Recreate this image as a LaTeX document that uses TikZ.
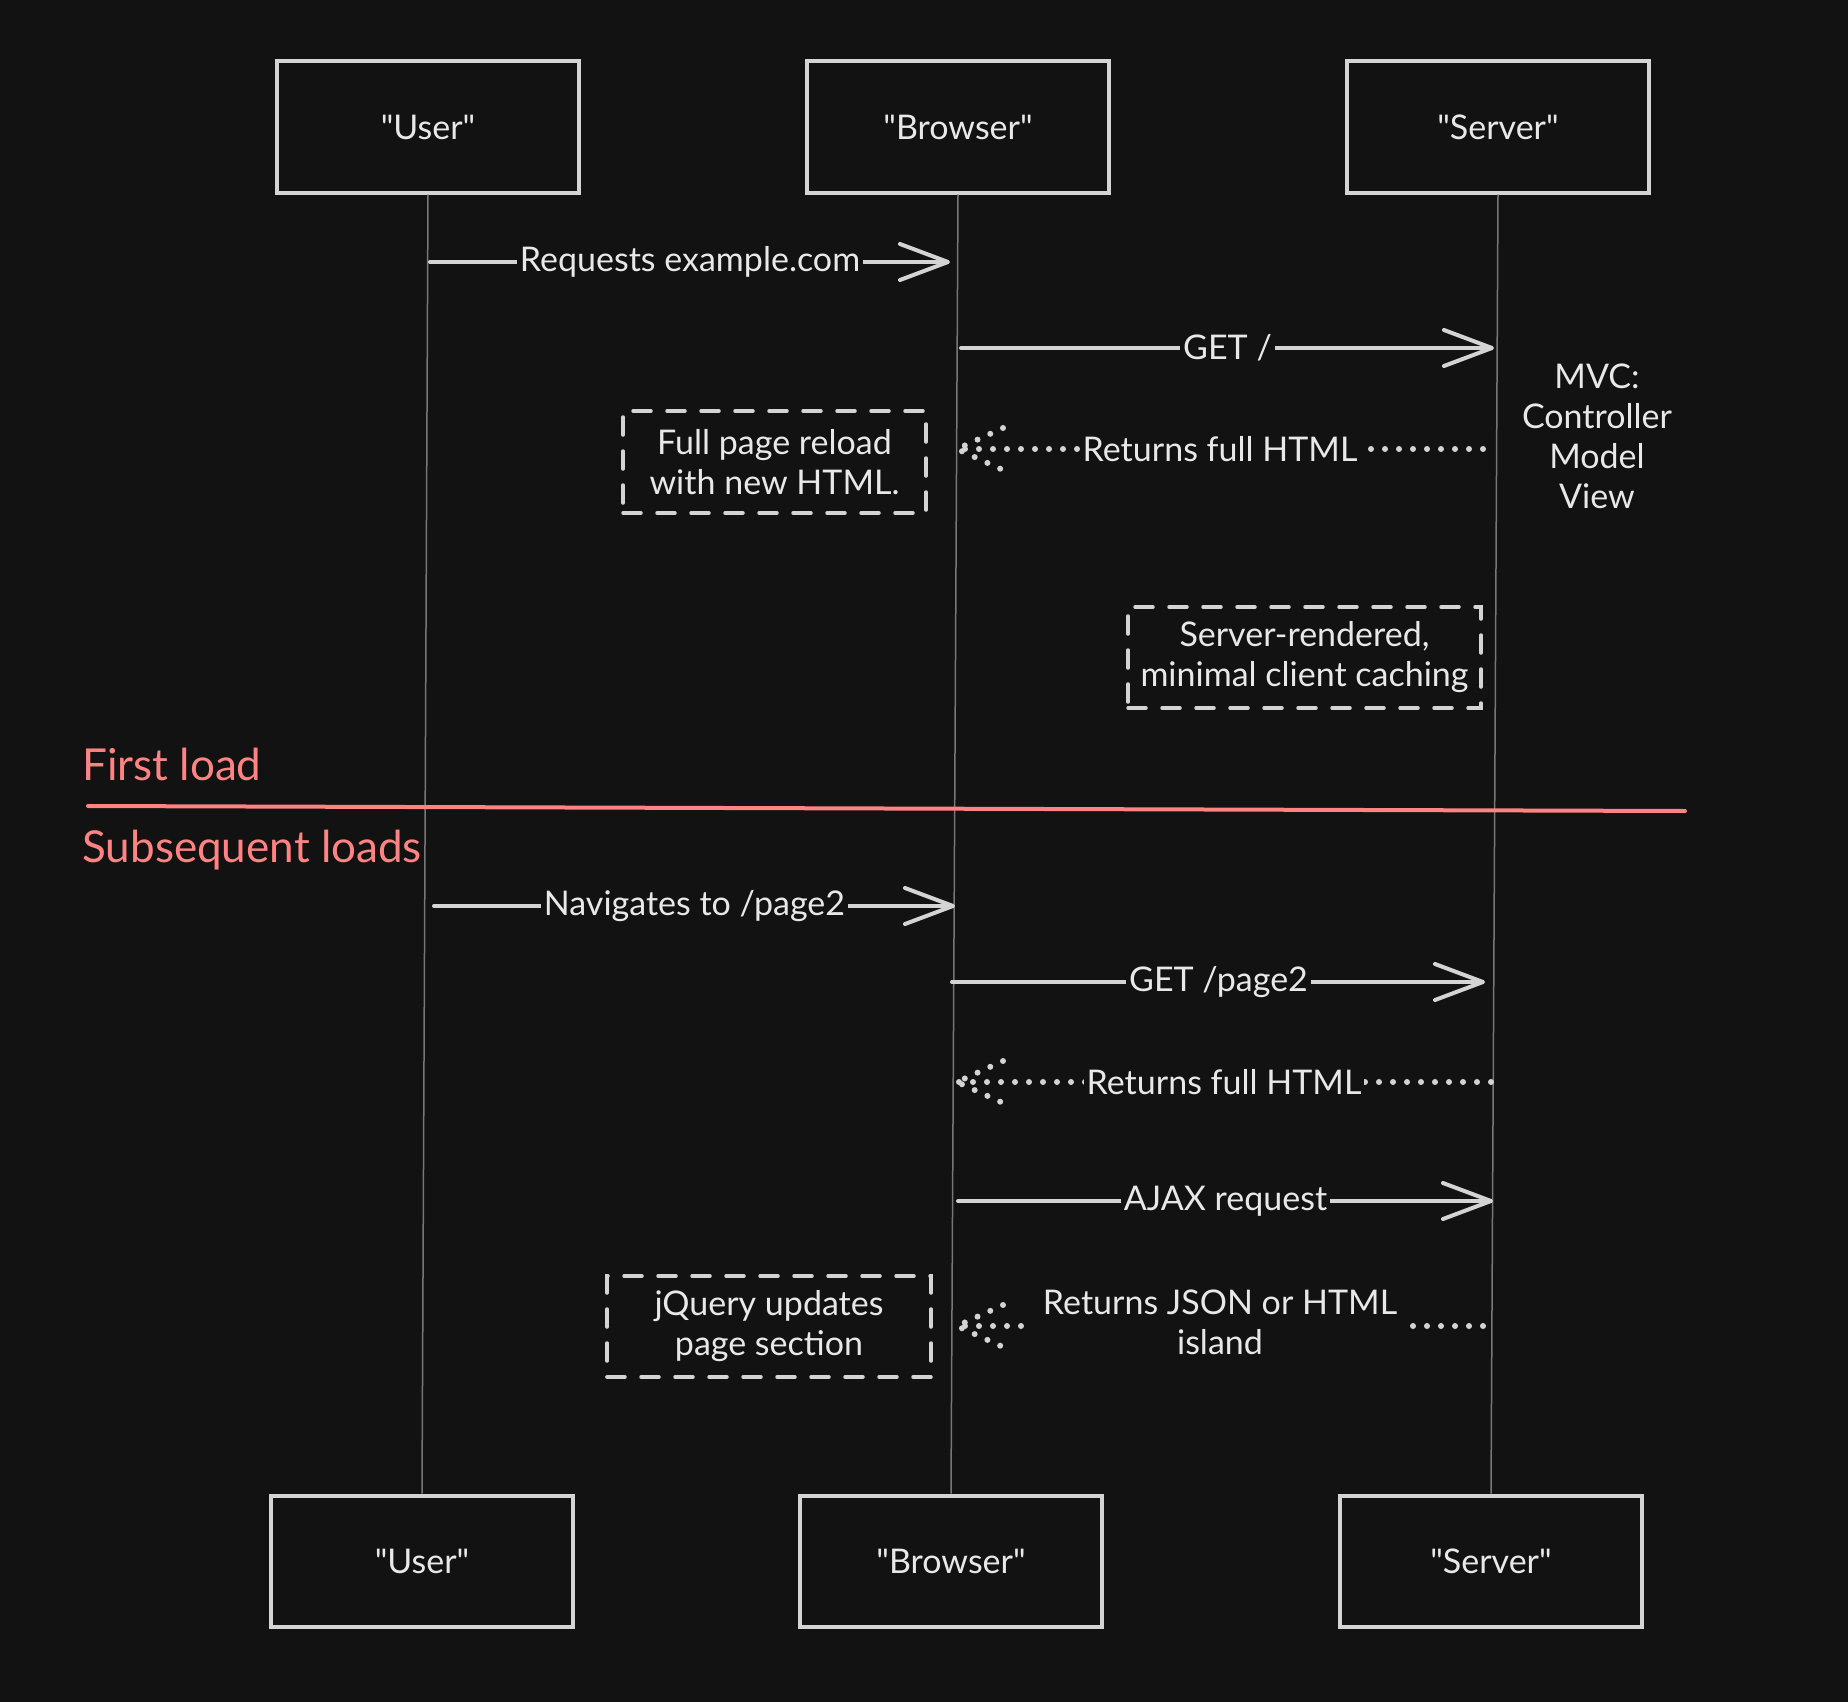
\documentclass[tikz,border=0pt]{standalone}
\usepackage{fontspec}
\setmainfont{Lato}[Ligatures=TeXOff]
\usetikzlibrary{arrows.meta,calc}
\definecolor{bg}{HTML}{121212}
\definecolor{ink}{HTML}{D4D4D4}
\definecolor{txt}{HTML}{E8E8E8}
\definecolor{life}{HTML}{777777}
\definecolor{redc}{HTML}{FF8383}
\begin{document}
\begin{tikzpicture}[x=0.5pt,y=-0.5pt,
  actor/.style={draw=ink, line width=2pt, fill=bg, minimum width=151pt, minimum height=65.5pt, text=txt, font=\fontsize{17}{20}\selectfont, inner sep=0pt},
  notebox/.style={draw=ink, line width=1.75pt, dash pattern=on 9pt off 8pt, line cap=round, fill=bg, text=txt, align=center, font=\fontsize{17}{20}\selectfont, inner sep=0pt},
  lifeline/.style={draw=life, line width=0.75pt},
  msg/.style={draw=ink, line width=2pt, line cap=round, -{Straight Barb[length=24pt,width=18pt,round]}},
  ret/.style={draw=ink, line width=3pt, line cap=round, dash pattern=on 0pt off 7pt},
  lbl/.style={fill=bg, text=txt, inner xsep=1.5pt, inner ysep=1pt, align=center, font=\fontsize{17}{20}\selectfont},
  redtxt/.style={text=redc, anchor=west, inner sep=0pt, font=\fontsize{22}{26}\selectfont},
  plain/.style={text=txt, align=center, font=\fontsize{17}{20}\selectfont}
]
\fill[bg] (0,0) rectangle (1848,1702);
\useasboundingbox (0,0) rectangle (1848,1702);

% actors (placed first so lifelines can be drawn between them)
\node[actor] (userT) at (428,127) {"User"};
\node[actor] (browserT) at (958,127) {"Browser"};
\node[actor] (serverT) at (1498,127) {"Server"};
\node[actor] (userB) at (422,1561) {"User"};
\node[actor] (browserB) at (951,1561) {"Browser"};
\node[actor] (serverB) at (1491,1561) {"Server"};

% lifelines
\path[lifeline] (userT.south) -- (userB.north);
\path[lifeline] (browserT.south) -- (browserB.north);
\path[lifeline] (serverT.south) -- (serverB.north);

% message endpoints
\coordinate (s1) at (430,262);  \coordinate (e1) at (950,262);
\coordinate (s2) at (961,348);  \coordinate (e2) at (1494,348);
\coordinate (s3) at (1483,449); \coordinate (e3) at (957,449);
\coordinate (s4) at (434,906);  \coordinate (e4) at (955,906);
\coordinate (s5) at (952,982);  \coordinate (e5) at (1485,982);
\coordinate (s6) at (1491,1082);\coordinate (e6) at (957,1082);
\coordinate (s7) at (958,1201); \coordinate (e7) at (1493,1201);
\coordinate (s8) at (1483,1326);\coordinate (e8) at (957,1326);

% solid messages
\draw[msg] (s1) -- (e1);
\draw[msg] (s2) -- (e2);
\draw[msg] (s4) -- (e4);
\draw[msg] (s5) -- (e5);
\draw[msg] (s7) -- (e7);

% dotted returns
\foreach \s/\e in {s3/e3, s6/e6, s8/e8}{
  \draw[ret] (\s) -- (\e);
  \draw[ret] ($(\e)+(46,-21)$) -- (\e) -- ($(\e)+(46,21)$);
}

% labels
\node[lbl] (l1) at ($(s1)!0.5!(e1)$) {Requests example.com};
\node[lbl] (l2) at ($(s2)!0.5!(e2)$) {GET /};
\node[lbl] (l3) at ($(s3)!0.5!(e3)$) {Returns full HTML};
\node[lbl] (l4) at ($(s4)!0.5!(e4)$) {Navigates to /page2};
\node[lbl] (l5) at ($(s5)!0.5!(e5)$) {GET /page2};
\node[lbl] (l6) at ($(s6)!0.5!(e6)$) {Returns full HTML};
\node[lbl] (l7) at ($(s7)!0.5!(e7)$) {AJAX request};
\node[lbl, inner xsep=6pt] (l8) at ($(s8)!0.5!(e8)+(0,-4)$) {Returns JSON or HTML\\island};

% notes
\node[notebox, minimum width=151.5pt, minimum height=51pt] (n1) at (774.5,462) {Full page reload\\with new HTML.};
\node[notebox, minimum width=176.5pt, minimum height=50.5pt] (n2) at (1304.5,657.5) {Server-rendered,\\minimal client caching};
\node[notebox, minimum width=162pt, minimum height=50.5pt] (n3) at (769,1326.5) {jQuery updates\\page section};

% MVC text
\node[plain] (mvc) at (1597,436) {MVC:\\Controller\\Model\\View};

% phase divider
\node[redtxt] (first) at (82,764) {First load};
\node[redtxt] (subs) at (82,850) {Subsequent loads};
\coordinate (divL) at (88,806);
\coordinate (divR) at (1685,811);
\draw[redc, line width=2pt, line cap=round] (divL) -- (divR);
\end{tikzpicture}
\end{document}
